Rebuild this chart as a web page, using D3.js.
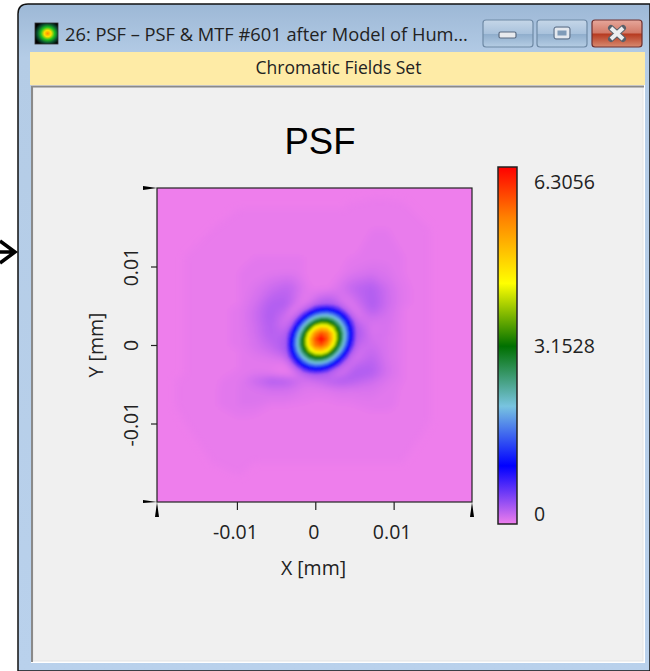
<!DOCTYPE html>
<html>
<head>
<meta charset="utf-8">
<script src="https://cdn.jsdelivr.net/npm/d3@7"></script>
<style>
  html, body { margin: 0; padding: 0; background: #fff; }
  svg { display: block; }
  text { font-family: "Open Sans", sans-serif; fill: #222; }
</style>
</head>
<body>
<svg id="chart" width="650" height="671"></svg>
<script>
let windowTitle = '26: PSF \u2013 PSF & MTF #601 after Model of Hum...';
let bandTitle = 'Chromatic Fields Set';
let chartTitle = 'PSF';
let xLabel = 'X [mm]';
let yLabel = 'Y [mm]';
let axisTicks = [-0.01, 0, 0.01];
let maxValue = 6.3056;
let barTicks = [0, 3.1528, 6.3056];
let barTickLabels = ['0', '3.1528', '6.3056'];

// colour bar read from bottom to top, position as a fraction of maxValue
let colorStops = [0, 0.163, 0.33, 0.498, 0.674, 0.86, 1];
let colorNames = ['#ee7eec', '#0000ff', '#78c4e0', '#007000', '#ffff00', '#ff8000', '#ff0000'];

// sample positions in mm, fine around the peak and coarse towards the edges
let xNodes = [-0.0202, -0.01325, -0.00975, -0.00775, -0.00575, -0.00375, -0.003, -0.00225, -0.0015, -0.00075, 0,
  0.00075, 0.0015, 0.00225, 0.003, 0.00375, 0.0045, 0.00525, 0.00725, 0.00925, 0.01125, 0.01475, 0.02];
let yNodes = [0.02, 0.01475, 0.01125, 0.00925, 0.00725, 0.00525, 0.0045, 0.00375, 0.003, 0.00225, 0.0015, 0.00075,
  0, -0.00075, -0.0015, -0.00225, -0.003, -0.00375, -0.0045, -0.00575, -0.00775, -0.00975, -0.0202];

// PSF values, one row per yNodes entry
let psfRows = [
  [.01,.01,.01,.01,.01,.01,.01,.01,.01,.01,.01,.01,.01,.01,.01,.01,.01,.01,.01,.01,.01,.01,.01],
  [.01,.02,.03,.03,.03,.03,.03,.03,.03,.03,.03,.03,.03,.03,.03,.03,.04,.04,.05,.05,.04,.02,.01],
  [.01,.03,.04,.05,.05,.05,.05,.05,.05,.04,.04,.03,.03,.03,.04,.04,.05,.05,.06,.07,.05,.02,.01],
  [.01,.03,.05,.06,.07,.08,.08,.07,.05,.04,.03,.02,.02,.03,.04,.06,.08,.09,.12,.09,.05,.02,.01],
  [.01,.03,.05,.09,.16,.22,.2,.15,.09,.05,.03,.02,.03,.06,.1,.15,.2,.23,.28,.15,.06,.02,.01],
  [.01,.03,.05,.13,.27,.28,.2,.1,.05,.1,.2,.29,.31,.29,.18,.09,.08,.14,.3,.16,.06,.02,.01],
  [.01,.03,.06,.15,.29,.22,.06,.07,.2,.49,.83,1.03,1.1,.94,.68,.32,.1,.08,.27,.14,.05,.02,.01],
  [.01,.03,.06,.16,.3,.15,.07,.27,.74,1.31,1.79,2.06,2.1,1.88,1.43,.85,.32,.09,.19,.13,.05,.02,.01],
  [.01,.03,.06,.15,.29,.12,.2,.74,1.49,2.25,2.9,3.29,3.26,2.86,2.18,1.43,.68,.18,.13,.12,.05,.02,.01],
  [.01,.03,.06,.14,.27,.14,.49,1.31,2.25,3.23,4.27,4.71,4.59,3.9,2.86,1.88,.94,.29,.1,.11,.05,.02,.01],
  [.01,.03,.06,.14,.27,.22,.83,1.79,2.9,4.27,5.27,5.75,5.49,4.59,3.26,2.1,1.1,.31,.11,.11,.05,.02,.01],
  [.01,.03,.06,.12,.24,.29,1.03,2.06,3.29,4.71,5.75,6.3,5.75,4.71,3.29,2.06,1.03,.29,.13,.1,.05,.02,.01],
  [.01,.03,.06,.12,.2,.31,1.1,2.1,3.26,4.59,5.49,5.75,5.27,4.27,2.9,1.79,.83,.2,.16,.1,.05,.02,.01],
  [.01,.03,.05,.1,.16,.29,.94,1.88,2.86,3.9,4.59,4.71,4.27,3.23,2.25,1.31,.49,.14,.19,.1,.05,.02,.01],
  [.01,.03,.05,.08,.11,.18,.68,1.43,2.18,2.86,3.26,3.29,2.9,2.25,1.49,.74,.2,.12,.22,.1,.05,.02,.01],
  [.01,.03,.05,.07,.06,.06,.32,.85,1.43,1.88,2.1,2.06,1.79,1.31,.74,.27,.12,.19,.25,.11,.05,.02,.01],
  [.01,.03,.05,.07,.05,.03,.1,.32,.68,.94,1.1,1.03,.83,.49,.2,.1,.19,.27,.27,.12,.05,.02,.01],
  [.01,.03,.06,.09,.08,.02,.03,.09,.18,.29,.31,.29,.2,.12,.12,.2,.27,.3,.26,.12,.05,.02,.01],
  [.01,.04,.07,.18,.3,.28,.23,.18,.14,.14,.17,.2,.24,.28,.3,.3,.27,.24,.17,.09,.05,.02,.01],
  [.01,.04,.08,.1,.13,.13,.12,.1,.08,.07,.07,.07,.08,.09,.1,.1,.1,.1,.1,.07,.04,.02,.01],
  [.01,.04,.08,.08,.05,.05,.04,.04,.04,.04,.03,.03,.03,.03,.04,.04,.04,.05,.06,.06,.04,.02,.01],
  [.01,.03,.04,.03,.03,.03,.03,.03,.03,.03,.03,.03,.03,.03,.03,.03,.03,.03,.03,.03,.03,.02,.01],
  [.01,.01,.01,.01,.01,.01,.01,.01,.01,.01,.01,.01,.01,.01,.01,.01,.01,.01,.01,.01,.01,.01,.01]
];

let plotLeft = 157, plotRight = 472, plotTop = 188, plotBottom = 502;
let barLeft = 498, barRight = 517, barTop = 167, barBottom = 524;
let labelFont = 19.5;

let svg = d3.select('#chart');
let defs = svg.append('defs');

let xScale = d3.scaleLinear().domain([-0.0202, 0.02]).range([plotLeft, plotRight]);
let yScale = d3.scaleLinear().domain([-0.02, 0.02]).range([plotBottom, plotTop]);
let barScale = d3.scaleLinear().domain([0, maxValue]).range([barBottom, barTop]);
let colorScale = d3.scaleLinear()
                   .domain(colorStops.map(d => d * maxValue))
                   .range(colorNames);

function addGradient(id, stops) {
  let g = defs.append('linearGradient').attr('id', id)
      .attr('x1', 0).attr('y1', 0).attr('x2', 0).attr('y2', 1);
  stops.forEach(s => g.append('stop').attr('offset', s[0]).attr('stop-color', s[1]));
}

// window frame
addGradient('glass', [[0, '#9db8d6'], [0.08, '#b4cce6'], [1, '#b9d1ec']]);
addGradient('btnBlue', [[0, '#c5d6e8'], [0.5, '#a9c2dc'], [0.52, '#8fadcc'], [1, '#b5cde4']]);
addGradient('btnRed', [[0, '#e6a79b'], [0.48, '#d27a68'], [0.52, '#b63a20'], [1, '#d88a70']]);

svg.append('path')
    .attr('d', 'M18 671V14Q18 4 28 4H650V671Z')
    .attr('fill', 'url(#glass)')
    .attr('stroke', '#111')
    .attr('stroke-width', 1.5);

// arrow pointing at the window from the left
svg.append('path')
    .attr('d', 'M0 241L15 252L0 263M0 252H14')
    .attr('fill', 'none')
    .attr('stroke', '#000')
    .attr('stroke-width', 3.5);

// title bar
let iconGrad = defs.append('radialGradient').attr('id', 'iconFill')
    .attr('cx', 0.55).attr('cy', 0.5).attr('r', 0.6);
[[0, '#ff9000'], [0.25, '#ffe000'], [0.5, '#20c020'], [0.75, '#0a5030'], [1, '#000']]
  .forEach(s => iconGrad.append('stop').attr('offset', s[0]).attr('stop-color', s[1]));
svg.append('rect').attr('x', 35).attr('y', 23).attr('width', 23).attr('height', 21)
    .attr('fill', 'url(#iconFill)').attr('stroke', '#333').attr('stroke-width', 0.8);
svg.append('text').attr('x', 65).attr('y', 41).attr('font-size', 18.3).text(windowTitle);

let buttons = [
  {x: 483, w: 50, fill: 'url(#btnBlue)', stroke: '#6f8aa6'},
  {x: 537, w: 50, fill: 'url(#btnBlue)', stroke: '#6f8aa6'},
  {x: 592, w: 50, fill: 'url(#btnRed)', stroke: '#6e3030'}
];
svg.selectAll('rect.btn').data(buttons).enter().append('rect')
    .attr('class', 'btn')
    .attr('x', d => d.x).attr('y', 20).attr('width', d => d.w).attr('height', 27).attr('rx', 3)
    .attr('fill', d => d.fill).attr('stroke', d => d.stroke).attr('stroke-width', 1.2);
svg.append('rect').attr('x', 499).attr('y', 32).attr('width', 17).attr('height', 6).attr('rx', 1.5)
    .attr('fill', '#e8eaee').attr('stroke', '#5a6a80').attr('stroke-width', 1.2);
svg.append('rect').attr('x', 556).attr('y', 29).attr('width', 12).attr('height', 8).attr('rx', 1)
    .attr('fill', '#7f9bb8').attr('stroke', '#e4e8ee').attr('stroke-width', 3);
svg.append('rect').attr('x', 554).attr('y', 27).attr('width', 16).attr('height', 12).attr('rx', 2)
    .attr('fill', 'none').attr('stroke', '#5a6a80').attr('stroke-width', 1);
svg.append('path').attr('d', 'M611 28L623 39M623 28L611 39')
    .attr('stroke', '#59606a').attr('stroke-width', 6).attr('stroke-linecap', 'round');
svg.append('path').attr('d', 'M611 28L623 39M623 28L611 39')
    .attr('stroke', '#eceef0').attr('stroke-width', 4);

// yellow band and panel
svg.append('rect').attr('x', 30).attr('y', 52).attr('width', 615).attr('height', 33).attr('fill', '#feeba6');
svg.append('text').attr('x', 338.5).attr('y', 74).attr('text-anchor', 'middle').attr('font-size', 17.5).text(bandTitle);
svg.append('rect').attr('x', 31).attr('y', 85).attr('width', 614).attr('height', 578).attr('fill', '#ffffff');
svg.append('rect').attr('x', 33).attr('y', 87).attr('width', 610).attr('height', 574).attr('fill', '#f0f0f0')
    .attr('stroke', '#e4e4e4').attr('stroke-width', 1);
svg.append('path').attr('d', 'M32 662V86.5H644').attr('fill', 'none').attr('stroke', '#8a8a8a').attr('stroke-width', 2);

svg.append('text').attr('x', 320).attr('y', 154).attr('text-anchor', 'middle')
    .attr('font-size', 36.5).style('font-family', '"Liberation Sans", Arial, sans-serif').style('fill', '#000')
    .text(chartTitle);

// heat map: stacked filled contours of the sampled PSF
defs.append('clipPath').attr('id', 'plotClip').append('rect')
    .attr('x', plotLeft).attr('y', plotTop)
    .attr('width', plotRight - plotLeft).attr('height', plotBottom - plotTop);
[['softLow', 3.5], ['softHigh', 1.2]].forEach(f => {
  defs.append('filter').attr('id', f[0])
      .attr('filterUnits', 'userSpaceOnUse')
      .attr('x', plotLeft - 20).attr('y', plotTop - 20)
      .attr('width', plotRight - plotLeft + 40).attr('height', plotBottom - plotTop + 40)
    .append('feGaussianBlur').attr('stdDeviation', f[1]);
});

let xIndex = d3.scaleLinear().domain(d3.range(xNodes.length)).range(xNodes.map(xScale));
let yIndex = d3.scaleLinear().domain(d3.range(yNodes.length)).range(yNodes.map(yScale));
let gridPath = d3.geoPath(d3.geoTransform({
  point(x, y) { this.stream.point(xIndex(x - 0.5), yIndex(y - 0.5)); }
}));
let levels = d3.range(0.02, 6.3, 0.03);
let contours = d3.contours()
                 .size([xNodes.length, yNodes.length])
                 .thresholds(levels)(psfRows.flat());

let plot = svg.append('g').attr('clip-path', 'url(#plotClip)');
plot.append('rect')
    .attr('x', plotLeft).attr('y', plotTop)
    .attr('width', plotRight - plotLeft).attr('height', plotBottom - plotTop)
    .attr('fill', colorScale(0));

// the faint rings get a wider blur than the steep peak
let lowLimit = 0.4;
plot.append('g').attr('filter', 'url(#softLow)')
  .selectAll('path')
  .data(contours.filter(d => d.value < lowLimit))
  .enter()
  .append('path')
    .attr('d', gridPath)
    .attr('fill', d => colorScale(d.value));
plot.append('g').attr('filter', 'url(#softHigh)')
  .selectAll('path')
  .data(contours.filter(d => d.value >= lowLimit))
  .enter()
  .append('path')
    .attr('d', gridPath)
    .attr('fill', d => colorScale(d.value));

svg.append('rect')
    .attr('x', plotLeft).attr('y', plotTop)
    .attr('width', plotRight - plotLeft).attr('height', plotBottom - plotTop)
    .attr('fill', 'none').attr('stroke', '#222').attr('stroke-width', 1.2);

// axes
let fmt = d => d === 0 ? '0' : String(d);
let xAxis = svg.append('g')
    .attr('transform', `translate(0,${plotBottom})`)
    .call(d3.axisBottom(xScale).tickValues(axisTicks).tickFormat(fmt).tickSize(8).tickSizeOuter(0));
let yAxis = svg.append('g')
    .attr('transform', `translate(${plotLeft},0)`)
    .call(d3.axisLeft(yScale).tickValues(axisTicks).tickFormat(fmt).tickSize(6).tickSizeOuter(0));
svg.selectAll('.domain').remove();
svg.selectAll('.tick line').attr('stroke', '#222').attr('stroke-width', 1.2);
xAxis.selectAll('text')
    .attr('y', 23).attr('dy', '0.71em').attr('dx', -2)
    .style('font-family', '"Open Sans", sans-serif').style('font-size', labelFont + 'px').style('fill', '#222');
yAxis.selectAll('text')
    .attr('x', 0).attr('dy', 0)
    .attr('text-anchor', 'middle')
    .attr('transform', 'translate(-19,0) rotate(-90)')
    .style('font-family', '"Open Sans", sans-serif').style('font-size', labelFont + 'px').style('fill', '#222');

svg.append('text').attr('x', 313.5).attr('y', 575).attr('text-anchor', 'middle').attr('font-size', labelFont).text(xLabel);
svg.append('text').attr('transform', 'translate(103,345) rotate(-90)').attr('text-anchor', 'middle')
    .attr('font-size', labelFont).text(yLabel);

// thick corner marks
let wedges = [
  `M${plotLeft} ${plotBottom}L${plotLeft - 14} ${plotBottom - 2}V${plotBottom + 1}Z`,
  `M${plotLeft} ${plotTop}L${plotLeft - 14} ${plotTop - 2}V${plotTop + 2}Z`,
  `M${plotLeft} ${plotBottom}L${plotLeft - 2} ${plotBottom + 15}H${plotLeft + 2}Z`,
  `M${plotRight} ${plotBottom}L${plotRight - 2} ${plotBottom + 15}H${plotRight + 2}Z`
];
svg.selectAll('path.wedge').data(wedges).enter().append('path')
    .attr('class', 'wedge').attr('d', d => d).attr('fill', '#000');

// colour bar
let barGrad = defs.append('linearGradient').attr('id', 'barFill')
    .attr('x1', 0).attr('y1', 1).attr('x2', 0).attr('y2', 0);
colorStops.forEach((s, i) => barGrad.append('stop').attr('offset', s).attr('stop-color', colorNames[i]));
svg.append('rect')
    .attr('x', barLeft).attr('y', barScale(maxValue))
    .attr('width', barRight - barLeft).attr('height', barScale(0) - barScale(maxValue))
    .attr('fill', 'url(#barFill)').attr('stroke', '#222').attr('stroke-width', 1.5);
svg.selectAll('text.barLabel').data(barTicks).enter().append('text')
    .attr('class', 'barLabel')
    .attr('x', 534)
    .attr('y', d => Math.max(Math.min(barScale(d), 514), 182))
    .attr('dy', '0.36em')
    .attr('font-size', labelFont)
    .text((d, i) => barTickLabels[i]);
</script>
</body>
</html>
